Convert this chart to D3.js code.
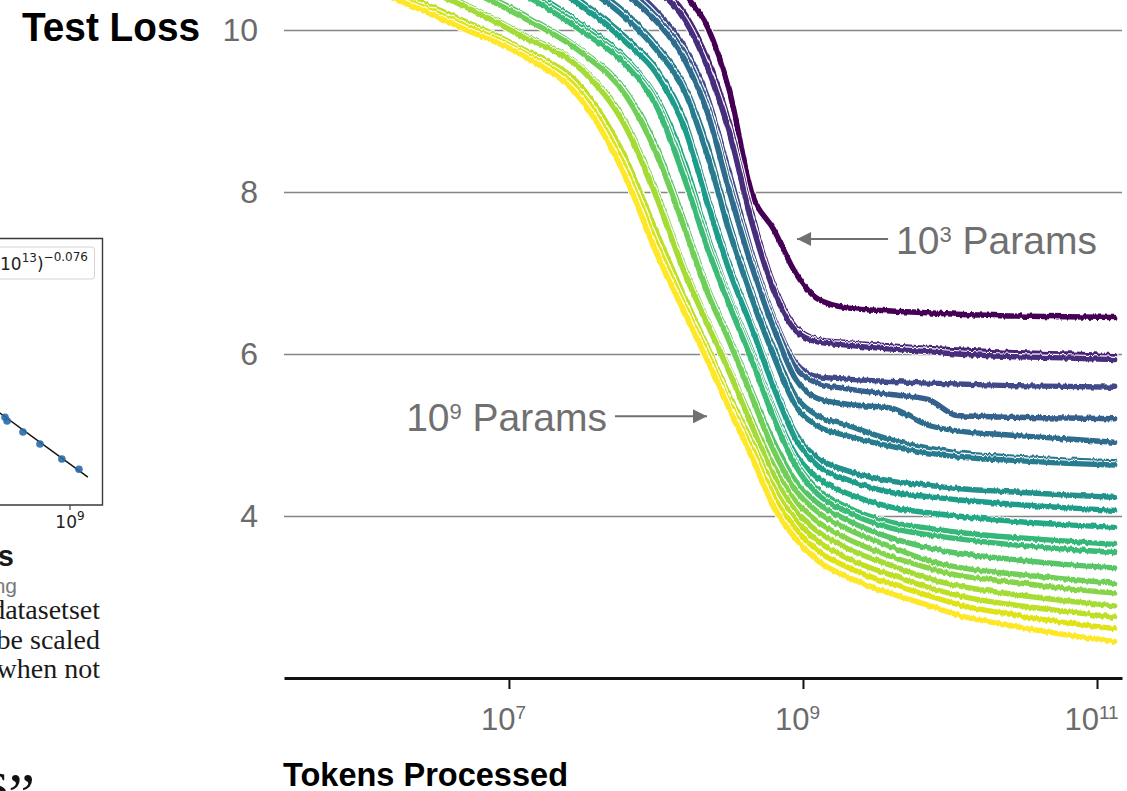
<!DOCTYPE html>
<html>
<head>
<meta charset="utf-8">
<script src="https://cdn.jsdelivr.net/npm/d3@7"></script>
<style>
  html, body { margin: 0; padding: 0; background: #fff; }
  svg { display: block; }
</style>
</head>
<body>
<svg id="chart" width="1127" height="791"></svg>
<script>
// ---------- data: test loss curves ----------
// log10 of tokens processed at each sampled step (shared by all runs)
const tokenExponents = [5.47, 6.2, 6.7, 7.1, 7.5, 7.8, 8.0, 8.2, 8.35, 8.5, 8.65, 8.8, 8.95, 9.1, 9.3, 9.6, 9.85, 10.05, 10.4, 10.8, 11.12];

// log10 parameter count of each run, smallest model first
const paramExponents = [3.0, 3.6, 3.8, 4.3, 4.8, 5.1, 5.4, 5.5, 6.0, 6.3, 6.6, 7.0, 7.1, 7.4, 7.7, 7.9, 8.2, 8.4, 8.7, 9.0];

// test loss of each run at the sampled token counts
const testLoss = [
  [11.54, 11.33, 11.18, 11.06, 10.94, 10.86, 10.80, 10.43, 10.04, 9.25, 8.00, 7.54, 7.00, 6.68, 6.57, 6.53, 6.51, 6.49, 6.47, 6.46, 6.45],
  [11.50, 11.29, 11.14, 11.02, 10.91, 10.81, 10.57, 10.19, 9.65, 8.84, 7.74, 6.86, 6.34, 6.18, 6.14, 6.10, 6.07, 6.05, 6.02, 6.00, 5.98],
  [11.49, 11.27, 11.12, 11.01, 10.89, 10.77, 10.51, 10.11, 9.54, 8.73, 7.64, 6.79, 6.29, 6.15, 6.11, 6.06, 6.03, 6.00, 5.97, 5.95, 5.93],
  [11.44, 11.22, 11.07, 10.96, 10.84, 10.56, 10.24, 9.77, 9.17, 8.23, 7.26, 6.46, 5.89, 5.72, 5.69, 5.66, 5.64, 5.63, 5.61, 5.60, 5.59],
  [11.42, 11.20, 11.05, 10.94, 10.81, 10.50, 10.17, 9.69, 9.07, 8.10, 7.17, 6.40, 5.83, 5.64, 5.57, 5.50, 5.44, 5.24, 5.22, 5.21, 5.20],
  [11.41, 11.19, 11.04, 10.93, 10.79, 10.44, 10.11, 9.61, 8.98, 8.00, 7.09, 6.32, 5.69, 5.45, 5.38, 5.33, 5.12, 5.05, 5.00, 4.95, 4.91],
  [11.34, 11.13, 10.98, 10.86, 10.59, 10.20, 9.82, 9.29, 8.57, 7.61, 6.78, 6.07, 5.48, 5.24, 5.12, 4.94, 4.84, 4.78, 4.73, 4.69, 4.67],
  [11.33, 11.11, 10.97, 10.85, 10.54, 10.14, 9.76, 9.22, 8.45, 7.51, 6.70, 5.98, 5.36, 5.11, 4.99, 4.86, 4.78, 4.73, 4.69, 4.65, 4.63],
  [11.26, 11.05, 10.90, 10.75, 10.34, 9.90, 9.53, 8.85, 7.95, 7.10, 6.39, 5.65, 5.02, 4.72, 4.56, 4.43, 4.38, 4.34, 4.30, 4.26, 4.23],
  [11.25, 11.04, 10.89, 10.70, 10.29, 9.84, 9.47, 8.76, 7.86, 7.02, 6.33, 5.59, 4.95, 4.62, 4.45, 4.29, 4.24, 4.20, 4.15, 4.10, 4.07],
  [11.19, 10.97, 10.82, 10.52, 10.07, 9.64, 9.18, 8.34, 7.47, 6.71, 6.05, 5.33, 4.76, 4.47, 4.28, 4.11, 4.04, 4.00, 3.94, 3.89, 3.86],
  [11.17, 10.95, 10.80, 10.48, 10.03, 9.60, 9.13, 8.23, 7.39, 6.66, 5.99, 5.27, 4.67, 4.33, 4.11, 3.92, 3.85, 3.80, 3.74, 3.69, 3.65],
  [11.16, 10.94, 10.78, 10.44, 9.98, 9.56, 9.07, 8.13, 7.31, 6.60, 5.93, 5.21, 4.62, 4.27, 4.05, 3.85, 3.77, 3.72, 3.65, 3.59, 3.55],
  [11.06, 10.85, 10.54, 10.19, 9.74, 9.23, 8.57, 7.60, 6.82, 6.21, 5.55, 4.92, 4.43, 4.16, 3.95, 3.73, 3.61, 3.54, 3.47, 3.40, 3.36],
  [11.04, 10.83, 10.51, 10.15, 9.71, 9.18, 8.49, 7.52, 6.76, 6.15, 5.48, 4.81, 4.32, 4.05, 3.84, 3.62, 3.45, 3.37, 3.29, 3.22, 3.17],
  [10.96, 10.67, 10.32, 9.94, 9.53, 8.84, 8.02, 7.04, 6.42, 5.82, 5.20, 4.62, 4.18, 3.93, 3.72, 3.50, 3.36, 3.27, 3.19, 3.10, 3.05],
  [10.95, 10.64, 10.29, 9.91, 9.50, 8.78, 7.95, 6.98, 6.37, 5.77, 5.12, 4.50, 4.06, 3.81, 3.60, 3.39, 3.23, 3.14, 3.04, 2.95, 2.89],
  [10.86, 10.48, 10.11, 9.76, 9.28, 8.39, 7.52, 6.68, 6.09, 5.48, 4.93, 4.35, 3.95, 3.69, 3.48, 3.27, 3.12, 3.02, 2.91, 2.82, 2.75],
  [10.84, 10.44, 10.06, 9.72, 9.20, 8.27, 7.38, 6.58, 6.01, 5.40, 4.84, 4.24, 3.84, 3.57, 3.37, 3.16, 3.02, 2.91, 2.79, 2.68, 2.61],
  [10.81, 10.40, 10.01, 9.68, 9.12, 8.16, 7.26, 6.49, 5.92, 5.32, 4.74, 4.12, 3.72, 3.45, 3.25, 3.04, 2.90, 2.78, 2.65, 2.53, 2.45]
];

const lossTicks = [4, 6, 8, 10];
const tokenTickExponents = [7, 9, 11];

// ---------- data: loss vs. model size panel (partly visible) ----------
const fitNorm = 8.8e13;
const fitExponent = -0.076;
const sizeParams = [3.6e7, 4.0e7, 9.0e7, 2.15e8, 6.6e8, 1.58e9];
const sizeLoss = [3.05, 2.99, 2.82, 2.645, 2.44, 2.31];
const captionLines = ["size, datasetset", "must be scaled", "factor when not"];

// ---------- setup ----------
const svg = d3.select("#chart");
const sans = "'Liberation Sans', Arial, Helvetica, sans-serif";
const plot = { left: 284, right: 1122, top: 30, bottom: 678 };

const x = d3.scaleLog().domain([10 ** 5.47, 10 ** 11.17]).range([plot.left, plot.right]);
const y = d3.scaleLinear().domain([2, 10]).range([plot.bottom, plot.top]);
const color = d3.scaleSequential(d3.interpolateViridis).domain([3, 9]);

const defs = svg.append("defs");

// superscript helper: base, raised exponent, then optional trailing text
function power(textSel, base, exp, supSize, rise, tail) {
  textSel.append("tspan").text(base);
  textSel.append("tspan").attr("dy", -rise).attr("font-size", supSize).text(exp);
  if (tail) textSel.append("tspan").attr("dy", rise).text(tail);
}

// ---------- left panel: loss vs parameters ----------
const px = d3.scaleLog().domain([1e9, 1e10]).range([70, 115]);
const py = d3.scaleLog().domain([1, 10]).range([626, 195]);
const left = svg.append("g");

left.append("path")
  .attr("d", "M-5,238.5H102.5V505H-5")
  .attr("fill", "none").attr("stroke", "#3a3a3a").attr("stroke-width", 1.4);

left.append("rect")
  .attr("x", -12).attr("y", 247).attr("width", 106.5).attr("height", 32).attr("rx", 3)
  .attr("fill", "#fff").attr("stroke", "#d4d4d4").attr("stroke-width", 1);

const legendText = left.append("text")
  .attr("x", 88).attr("y", 270).attr("text-anchor", "end")
  .attr("fill", "#222").style("font", "17px 'DejaVu Sans', sans-serif");
legendText.append("tspan").text("L = (N/8.8\u00b710");
legendText.append("tspan").attr("dy", -8).attr("font-size", 12).text("13");
legendText.append("tspan").attr("dy", 8).text(")");
legendText.append("tspan").attr("dy", -9).attr("font-size", 12).text("\u22120.076");

const fitDomain = [1e6, 2.5e9];
left.append("path")
  .datum(fitDomain.map(n => [n, Math.pow(n / fitNorm, fitExponent)]))
  .attr("d", d3.line().x(d => px(d[0])).y(d => py(d[1])))
  .attr("fill", "none").attr("stroke", "#111").attr("stroke-width", 1.4);

left.selectAll("circle.pt")
  .data(sizeParams.map((n, i) => [n, sizeLoss[i]]))
  .join("circle").attr("class", "pt")
  .attr("cx", d => px(d[0])).attr("cy", d => py(d[1])).attr("r", 3.8)
  .attr("fill", "#2a6aa8").attr("fill-opacity", 0.9);

left.append("line")
  .attr("x1", px(1e9)).attr("x2", px(1e9)).attr("y1", 505).attr("y2", 510)
  .attr("stroke", "#333").attr("stroke-width", 1.1);
const pTick = left.append("text")
  .attr("x", px(1e9)).attr("y", 528).attr("text-anchor", "middle")
  .attr("fill", "#222").style("font", "17px 'DejaVu Sans', sans-serif");
power(pTick, "10", "9", 12, 8);

left.append("text")
  .attr("x", 14).attr("y", 566).attr("text-anchor", "end")
  .attr("fill", "#1a1a1a").style("font", `bold 29px ${sans}`).text("Parameters");
left.append("text")
  .attr("x", 17).attr("y", 593).attr("text-anchor", "end")
  .attr("fill", "#7a7a7a").style("font", `21px ${sans}`).text("non-embedding");

left.selectAll("text.cap")
  .data(captionLines)
  .join("text").attr("class", "cap")
  .attr("x", 100).attr("y", (d, i) => 619 + i * 29.5).attr("text-anchor", "end")
  .attr("fill", "#1a1a1a").style("font", "28px 'Liberation Serif', 'Times New Roman', serif")
  .text(d => d);

const quote = left.append("text")
  .attr("x", 35).attr("y", 814).attr("text-anchor", "end")
  .attr("fill", "#111").style("font", "60px 'Liberation Serif', 'Times New Roman', serif");
quote.append("tspan").attr("dy", -13).text("s");
quote.append("tspan").attr("dy", 13).text("\u201d");

// ---------- main chart ----------
svg.append("text")
  .attr("x", 22).attr("y", 41)
  .attr("textLength", 178).attr("lengthAdjust", "spacingAndGlyphs")
  .attr("fill", "#000").style("font", `bold 40px ${sans}`).text("Test Loss");

const yAxis = svg.append("g").attr("transform", `translate(${plot.left},0)`)
  .call(d3.axisLeft(y).tickValues(lossTicks).tickSize(-(plot.right - plot.left)).tickPadding(26).tickFormat(d3.format("d")));
yAxis.select(".domain").remove();
yAxis.selectAll(".tick line").attr("stroke", "#858585").attr("stroke-width", 1.7);
yAxis.selectAll(".tick text").attr("fill", "#6b6b6b").style("font", `32px ${sans}`);

defs.append("clipPath").attr("id", "plot-clip")
  .append("rect").attr("x", plot.left).attr("y", 0)
  .attr("width", plot.right - plot.left).attr("height", plot.bottom - 2);

// slight vertical jitter along the curves, like logged training noise
const jitter = defs.append("filter").attr("id", "jitter")
  .attr("filterUnits", "userSpaceOnUse").attr("x", 0).attr("y", 0).attr("width", 1127).attr("height", 791);
jitter.append("feTurbulence").attr("type", "fractalNoise")
  .attr("baseFrequency", "0.35 0.03").attr("numOctaves", 2).attr("seed", 3).attr("result", "noise");
jitter.append("feColorMatrix").attr("in", "noise").attr("type", "matrix")
  .attr("values", "0 0 0 0 0.5  0 1 0 0 0  0 0 0 0 0  0 0 0 0 1").attr("result", "vnoise");
jitter.append("feDisplacementMap").attr("in", "SourceGraphic").attr("in2", "vnoise")
  .attr("scale", 4).attr("xChannelSelector", "R").attr("yChannelSelector", "G");

const line = d3.line()
  .x(d => x(10 ** d[0]))
  .y(d => y(d[1]))
  .curve(d3.curveMonotoneX);

const runs = testLoss.map((vals, i) => ({
  params: paramExponents[i],
  pts: tokenExponents.map((t, j) => [t, vals[j]])
}));

const curves = svg.append("g").attr("clip-path", "url(#plot-clip)")
  .append("g").attr("filter", "url(#jitter)");
runs.forEach(r => {
  curves.append("path").attr("d", line(r.pts))
    .attr("fill", "none").attr("stroke", "#fff").attr("stroke-width", 7.6)
    .attr("stroke-linejoin", "round").attr("stroke-linecap", "round");
  curves.append("path").attr("d", line(r.pts))
    .attr("fill", "none").attr("stroke", color(r.params)).attr("stroke-width", 5.4)
    .attr("stroke-linejoin", "round").attr("stroke-linecap", "round");
});

const xAxis = svg.append("g").attr("transform", `translate(0,${plot.bottom})`)
  .call(d3.axisBottom(x).tickValues(tokenTickExponents.map(e => 10 ** e)).tickSize(11).tickSizeOuter(0).tickFormat(""));
xAxis.select(".domain").attr("stroke", "#111").attr("stroke-width", 3);
xAxis.selectAll(".tick line").attr("stroke", "#111").attr("stroke-width", 2);
xAxis.selectAll(".tick").each(function (d) {
  const t = d3.select(this).append("text")
    .attr("x", -6).attr("y", 52).attr("text-anchor", "middle")
    .attr("fill", "#6b6b6b").style("font", `31px ${sans}`);
  power(t, "10", String(Math.round(Math.log10(d))), 19, 11);
});

svg.append("text")
  .attr("x", 283).attr("y", 786)
  .attr("textLength", 285).attr("lengthAdjust", "spacingAndGlyphs")
  .attr("fill", "#000").style("font", `bold 33px ${sans}`).text("Tokens Processed");

// ---------- annotations ----------
const annoColor = "#707070";
defs.append("marker").attr("id", "arrowhead")
  .attr("viewBox", "0 0 10 10").attr("refX", 10).attr("refY", 5)
  .attr("markerWidth", 8).attr("markerHeight", 7).attr("markerUnits", "strokeWidth")
  .attr("orient", "auto")
  .append("path").attr("d", "M0,0L10,5L0,10Z").attr("fill", annoColor);

function annotate(tipTokens, tipLoss, dx, label, anchor) {
  const tx = x(tipTokens), ty = y(tipLoss);
  const tailX = tx + dx;
  svg.append("line")
    .attr("x1", tailX).attr("y1", ty).attr("x2", tx).attr("y2", ty)
    .attr("stroke", annoColor).attr("stroke-width", 2)
    .attr("marker-end", "url(#arrowhead)");
  const t = svg.append("text")
    .attr("x", tailX + (dx > 0 ? 8 : -8)).attr("y", ty + 15)
    .attr("text-anchor", anchor)
    .attr("fill", annoColor).style("font", `39px ${sans}`);
  power(t, "10", label, 22, 12, " Params");
}

annotate(10 ** 8.96, 7.42, 91, String(paramExponents[0]), "start");
annotate(10 ** 8.347, 5.23, -92, String(paramExponents[paramExponents.length - 1]), "end");
</script>
</body>
</html>
